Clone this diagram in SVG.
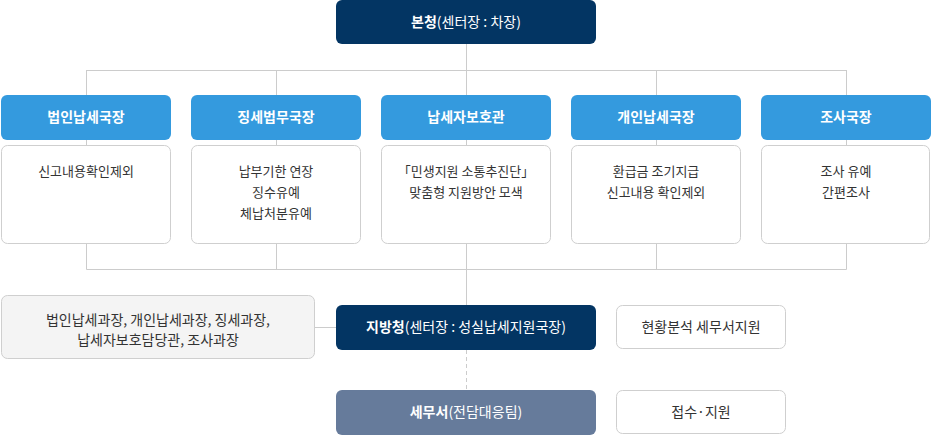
<svg xmlns="http://www.w3.org/2000/svg" width="931" height="435" viewBox="0 0 931 435">
<style>
text{font-family:"Noto Sans CJK KR","Noto Sans",sans-serif;text-anchor:middle}
.navy{fill:#033563}
.blue{fill:#349ade}
.slate{fill:#667b9b}
.card{fill:#fff;stroke:#cfcfcf;stroke-width:1}
.gray{fill:#f4f4f4;stroke:#cfcfcf;stroke-width:1}
.h{fill:#fff;font-size:14px;font-weight:bold}
.hr{font-weight:normal}
.t{fill:#333;font-size:13px}
.t2{fill:#333;font-size:14px}
.ln{stroke:#cccccc;stroke-width:1;fill:none}
.dash{stroke:#cccccc;stroke-width:1;fill:none;stroke-dasharray:4 3}
</style>
<g id="connectors">
<path class="ln" d="M466.5 44V95M86.5 70.5H846.5M86.5 70V95M276.5 70V95M656.5 70V95M846.5 70V95"/>
<path class="ln" d="M86.5 140V145M276.5 140V145M466.5 140V145M656.5 140V145M846.5 140V145"/>
<path class="ln" d="M86.5 244V269.5M276.5 244V269.5M466.5 244V305M656.5 244V269.5M846.5 244V269.5M86.5 269.5H846.5"/>
<path class="ln" d="M315 327.5H336"/>
<path class="dash" d="M466.5 350V390"/>
</g>
<g id="hq"><rect class="navy" x="336" y="0" width="260" height="44" rx="6"/><text class="h" x="466" y="27">본청<tspan class="hr">(센터장 : 차장)</tspan></text></g>
<g id="n1"><rect class="blue" x="1" y="95" width="170" height="45" rx="6"/><text class="h" x="86" y="122">법인납세국장</text></g>
<g id="n2"><rect class="blue" x="191" y="95" width="170" height="45" rx="6"/><text class="h" x="276" y="122">징세법무국장</text></g>
<g id="n3"><rect class="blue" x="381" y="95" width="170" height="45" rx="6"/><text class="h" x="466" y="122">납세자보호관</text></g>
<g id="n4"><rect class="blue" x="571" y="95" width="170" height="45" rx="6"/><text class="h" x="656" y="122">개인납세국장</text></g>
<g id="n5"><rect class="blue" x="761" y="95" width="170" height="45" rx="6"/><text class="h" x="846" y="122">조사국장</text></g>
<g id="c1"><rect class="card" x="1.5" y="145.5" width="169" height="98" rx="6"/><text class="t" x="86" y="176">신고내용확인제외</text></g>
<g id="c2"><rect class="card" x="191.5" y="145.5" width="169" height="98" rx="6"/><text class="t" x="276" y="176">납부기한 연장</text><text class="t" x="276" y="197">징수유예</text><text class="t" x="276" y="218">체납처분유예</text></g>
<g id="c3"><rect class="card" x="381.5" y="145.5" width="169" height="98" rx="6"/><text class="t" x="466" y="176">「민생지원 소통추진단」</text><text class="t" x="466" y="197">맞춤형 지원방안 모색</text></g>
<g id="c4"><rect class="card" x="571.5" y="145.5" width="169" height="98" rx="6"/><text class="t" x="656" y="176">환급금 조기지급</text><text class="t" x="656" y="197">신고내용 확인제외</text></g>
<g id="c5"><rect class="card" x="761.5" y="145.5" width="168" height="98" rx="6"/><text class="t" x="846" y="176">조사 유예</text><text class="t" x="846" y="197">간편조사</text></g>
<g id="sections"><rect class="gray" x="1.5" y="295.5" width="313" height="63" rx="6"/><text class="t2" x="158" y="325">법인납세과장, 개인납세과장, 징세과장,</text><text class="t2" x="158" y="345">납세자보호담당관, 조사과장</text></g>
<g id="regional"><rect class="navy" x="336" y="305" width="260" height="45" rx="6"/><text class="h" x="466" y="332">지방청<tspan class="hr">(센터장 : 성실납세지원국장)</tspan></text></g>
<g id="regional-note"><rect class="card" x="616.5" y="305.5" width="169" height="43" rx="6"/><text class="t2" x="701" y="332">현황분석 세무서지원</text></g>
<g id="office"><rect class="slate" x="336" y="390" width="260" height="45" rx="6"/><text class="h" x="466" y="417">세무서<tspan class="hr">(전담대응팀)</tspan></text></g>
<g id="office-note"><rect class="card" x="616.5" y="390.5" width="169" height="43" rx="6"/><text class="t2" x="701" y="417">접수·지원</text></g>
</svg>
